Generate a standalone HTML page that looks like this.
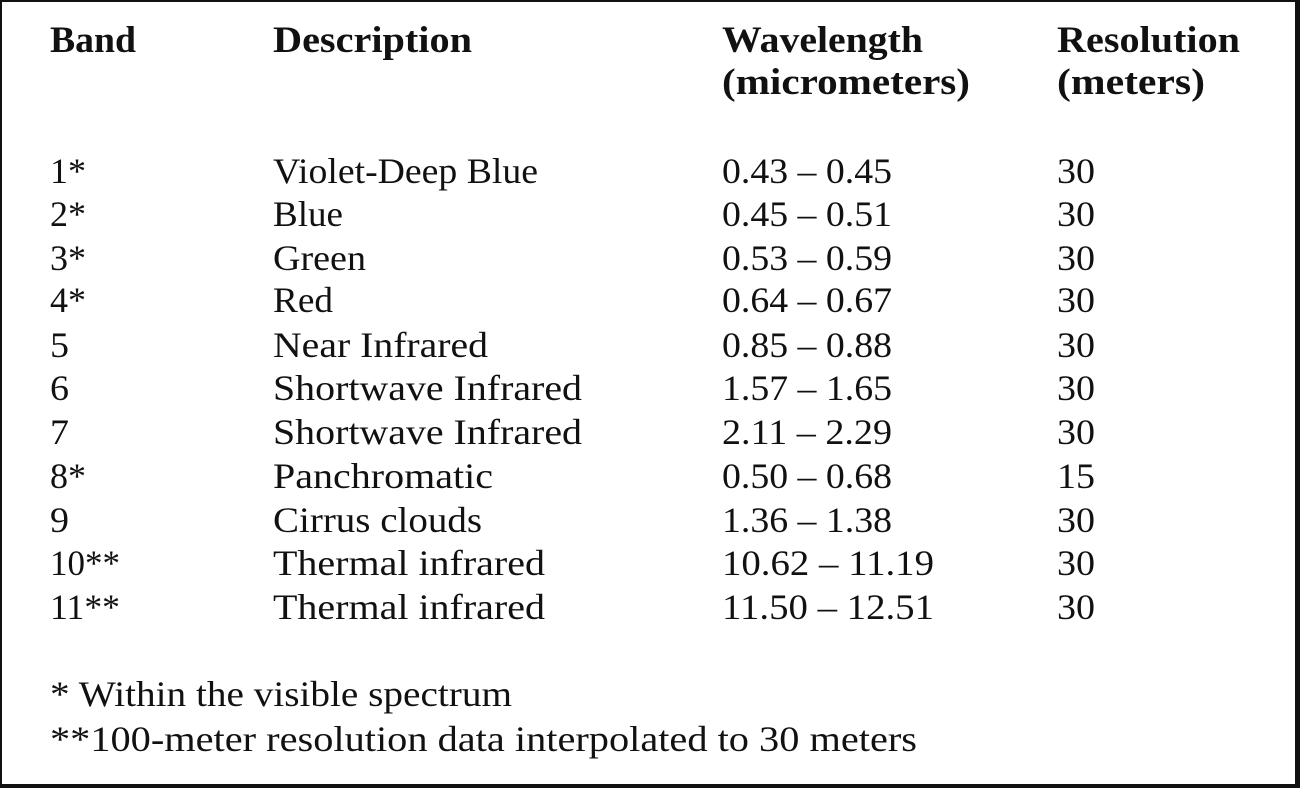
<!DOCTYPE html>
<html><head><meta charset="utf-8"><style>
html,body{margin:0;padding:0;background:#fff;width:1300px;height:788px;overflow:hidden}
svg{display:block}
text{font-family:"Liberation Serif",serif;fill:#111}
.h{font-weight:bold;font-size:37px}
.b{font-size:36px}
</style></head><body>
<svg width="1300" height="788">
<rect x="1" y="1" width="1295" height="784" fill="#fff" stroke="#111" stroke-width="2"/>
<rect x="1295" y="0" width="5" height="788" fill="#111"/>
<rect x="0" y="784" width="1300" height="4" fill="#111"/>
<g>
<text class="h" x="50" y="52" textLength="86" lengthAdjust="spacingAndGlyphs">Band</text>
<text class="h" x="273" y="52" textLength="199" lengthAdjust="spacingAndGlyphs">Description</text>
<text class="h" x="722" y="52" textLength="201" lengthAdjust="spacingAndGlyphs">Wavelength</text>
<text class="h" x="722" y="94" textLength="248" lengthAdjust="spacingAndGlyphs">(micrometers)</text>
<text class="h" x="1057" y="52" textLength="183" lengthAdjust="spacingAndGlyphs">Resolution</text>
<text class="h" x="1057" y="94" textLength="148" lengthAdjust="spacingAndGlyphs">(meters)</text>
</g>
<g id="rows"></g>
<text class="b" x="50" y="706" textLength="462" lengthAdjust="spacingAndGlyphs">* Within the visible spectrum</text>
<text class="b" x="50" y="751" textLength="867" lengthAdjust="spacingAndGlyphs">**100-meter resolution data interpolated to 30 meters</text>
</svg>
<script>
const bands=["1*","2*","3*","4*","5","6","7","8*","9","10**","11**"];
const descs=["Violet-Deep Blue","Blue","Green","Red","Near Infrared","Shortwave Infrared","Shortwave Infrared","Panchromatic","Cirrus clouds","Thermal infrared","Thermal infrared"];
const waves=["0.43 – 0.45","0.45 – 0.51","0.53 – 0.59","0.64 – 0.67","0.85 – 0.88","1.57 – 1.65","2.11 – 2.29","0.50 – 0.68","1.36 – 1.38","10.62 – 11.19","11.50 – 12.51"];
const res=["30","30","30","30","30","30","30","15","30","30","30"];
const baselines=[183,226,270,312,357,400,444,488,532,575,619];
const descW={"Violet-Deep Blue":265,"Blue":70,"Green":93,"Red":60,"Near Infrared":215,"Shortwave Infrared":309,"Panchromatic":220,"Cirrus clouds":209,"Thermal infrared":272};
const ns="http://www.w3.org/2000/svg";
const g=document.getElementById('rows');
function t(x,y,s,w){const e=document.createElementNS(ns,'text');e.setAttribute('class','b');e.setAttribute('x',x);e.setAttribute('y',y);if(w){e.setAttribute('textLength',w);e.setAttribute('lengthAdjust','spacingAndGlyphs');}e.textContent=s;return e;}
bands.forEach((b,i)=>{
 const y=baselines[i];
 const row=document.createElementNS(ns,'g');
 
 
 const a=t(50,y,b,b.length*17+2);
 
 
 const d=t(273,y,descs[i],descW[descs[i]]);
 
 
 const w=t(722,y,waves[i],waves[i].length>11?212:170);
 
 
 const r=t(1057,y,res[i],38);
 
 
 row.append(a,d,w,r);g.appendChild(row);
});
</script>
</body></html>
